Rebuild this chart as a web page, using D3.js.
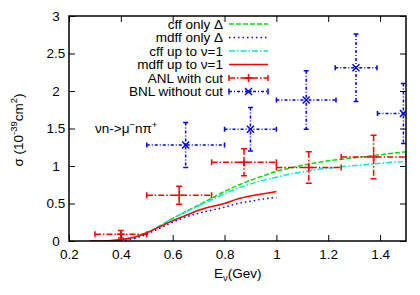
<html>
<head>
<style>
  body { margin: 0; background: #fff; }
  svg text { font-family: "Liberation Sans", Arial, sans-serif; }
</style>
</head>
<body>
<svg width="420" height="295"></svg>
<script src="https://d3js.org/d3.v7.min.js"></script>
<script>
    // curves (E in GeV, sigma in 1e-39 cm^2)
    var cffDeltaE = [0.28,0.35,0.4,0.45,0.5,0.55,0.6,0.65,0.7,0.75,0.8,0.85,0.9,0.95,1.0,1.05,1.1,1.15,1.2,1.25,1.3,1.35,1.4,1.45,1.5];
    var cffDeltaS = [0,0.003,0.012,0.045,0.11,0.2,0.3,0.39,0.48,0.57,0.66,0.74,0.81,0.87,0.93,0.97,1.01,1.04,1.07,1.09,1.11,1.13,1.15,1.17,1.19];
    var mdffDeltaE = [0.4,0.45,0.5,0.55,0.6,0.65,0.7,0.75,0.8,0.85,0.9,0.95,1.0];
    var mdffDeltaS = [0,0.03,0.09,0.17,0.25,0.32,0.37,0.41,0.45,0.5,0.53,0.56,0.58];
    var cffNuE = [0.28,0.35,0.4,0.45,0.5,0.55,0.6,0.65,0.7,0.75,0.8,0.85,0.9,0.95,1.0,1.05,1.1,1.15,1.2,1.25,1.3,1.35,1.4,1.45,1.5];
    var cffNuS = [0,0.003,0.012,0.045,0.11,0.2,0.3,0.39,0.47,0.55,0.63,0.7,0.76,0.81,0.85,0.89,0.92,0.95,0.97,0.99,1.005,1.02,1.035,1.05,1.06];
    var mdffNuE = [0.28,0.35,0.4,0.45,0.5,0.55,0.6,0.65,0.7,0.75,0.8,0.85,0.9,0.95,1.0];
    var mdffNuS = [0,0.005,0.02,0.05,0.11,0.19,0.27,0.34,0.41,0.46,0.5,0.56,0.6,0.63,0.66];

    // data points
    var anlE    = [0.4, 0.625, 0.875, 1.125, 1.375];
    var anlEerr = [0.1, 0.125, 0.125, 0.125, 0.125];
    var anlS    = [0.09, 0.61, 1.05, 0.98, 1.12];
    var anlSerr = [0.05, 0.12, 0.18, 0.21, 0.29];
    var bnlE    = [0.65, 0.9, 1.115, 1.307, 1.49];
    var bnlElo  = [0.5, 0.8, 1.0, 1.227, 1.39];
    var bnlEhi  = [0.8, 1.0, 1.23, 1.388, 1.6];
    var bnlS    = [1.28, 1.49, 1.88, 2.31, 1.70];
    var bnlSerr = [0.3, 0.29, 0.39, 0.45, 0.4];

    var xTicks = [0.2, 0.4, 0.6, 0.8, 1, 1.2, 1.4];
    var yTicks = [0, 0.5, 1, 1.5, 2, 2.5, 3];
    var legendLabels = ["cff only \u0394", "mdff only \u0394", "cff up to \u03bd=1", "mdff up to \u03bd=1", "ANL with cut", "BNL without cut"];

    var pL = 69, pR = 406, pT = 16, pB = 241;
    var svg = d3.select("svg");
    var x = d3.scaleLinear().domain([0.2, 1.5]).range([pL, pR]);
    var y = d3.scaleLinear().domain([0, 3]).range([pB, pT]);

    svg.append("defs").append("clipPath").attr("id", "clip")
        .append("rect").attr("x", pL).attr("y", pT)
        .attr("width", pR - pL).attr("height", pB - pT);

    // axes with inward ticks
    svg.append("g").attr("transform", "translate(0," + pB + ")")
        .call(d3.axisBottom(x).tickValues(xTicks).tickSize(-6).tickPadding(8).tickFormat(d => String(d)));
    svg.append("g").attr("transform", "translate(0," + pT + ")")
        .call(d3.axisTop(x).tickValues(xTicks).tickSize(-6).tickFormat(""));
    var yl = svg.append("g").attr("transform", "translate(" + pL + ",0)")
        .call(d3.axisLeft(y).tickValues(yTicks).tickSize(-6).tickFormat(d => String(d)));
    yl.selectAll("text").attr("text-anchor", "middle").attr("x", -13);
    svg.append("g").attr("transform", "translate(" + pR + ",0)")
        .call(d3.axisRight(y).tickValues(yTicks).tickSize(-6).tickFormat(""));
    svg.selectAll(".domain").remove();
    svg.selectAll(".tick line").attr("stroke", "#000");
    svg.selectAll(".tick text").style("font-size", "13.5px").attr("fill", "#000");

    var plot = svg.append("g").attr("clip-path", "url(#clip)");

    var line = d3.line().x(d => x(d[0])).y(d => y(d[1])).curve(d3.curveMonotoneX);
    function curve(es, ss, color, dash) {
        plot.append("path")
            .datum(es.map((e, i) => [e, ss[i]]))
            .attr("d", line)
            .attr("fill", "none")
            .attr("stroke", color)
            .attr("stroke-width", 1.5)
            .attr("stroke-dasharray", dash);
    }
    curve(cffDeltaE, cffDeltaS, "#00e000", "5,2");
    curve(cffNuE, cffNuS, "#00e6e6", "6,2,1.5,2");
    curve(mdffDeltaE, mdffDeltaS, "#0000ff", "1.5,3");
    curve(mdffNuE, mdffNuS, "#ff0000", null);

    function errbar(g, cx, cy, x1, x2, y1, y2, color, dash, cap) {
        g.append("line").attr("x1", x1).attr("x2", x2).attr("y1", cy).attr("y2", cy)
            .attr("stroke", color).attr("stroke-width", 1.5).attr("stroke-dasharray", dash);
        g.append("line").attr("x1", cx).attr("x2", cx).attr("y1", y1).attr("y2", y2)
            .attr("stroke", color).attr("stroke-width", 1.5).attr("stroke-dasharray", dash);
        [[x1, cy, 0], [x2, cy, 0], [cx, y1, 1], [cx, y2, 1]].forEach(c => {
            if (c[2] == 0)
                g.append("line").attr("x1", c[0]).attr("x2", c[0]).attr("y1", c[1] - cap).attr("y2", c[1] + cap)
                    .attr("stroke", color).attr("stroke-width", 1.5);
            else
                g.append("line").attr("x1", c[0] - cap).attr("x2", c[0] + cap).attr("y1", c[1]).attr("y2", c[1])
                    .attr("stroke", color).attr("stroke-width", 1.5);
        });
    }
    function plus(g, cx, cy, color) {
        g.append("path").attr("d", "M" + (cx - 4) + "," + cy + "h8M" + cx + "," + (cy - 4) + "v8")
            .attr("stroke", color).attr("stroke-width", 1.5);
    }
    function cross(g, cx, cy, color) {
        g.append("path").attr("d", "M" + (cx - 3.5) + "," + (cy - 3.5) + "l7,7M" + (cx - 3.5) + "," + (cy + 3.5) + "l7,-7")
            .attr("stroke", color).attr("stroke-width", 1.5);
    }

    anlE.forEach((e, i) => {
        errbar(plot, x(e), y(anlS[i]), x(e - anlEerr[i]), x(e + anlEerr[i]),
            y(anlS[i] + anlSerr[i]), y(anlS[i] - anlSerr[i]), "#ff0000", "6,2,1.5,2", 3);
        plus(plot, x(e), y(anlS[i]), "#ff0000");
    });
    bnlE.forEach((e, i) => {
        errbar(plot, x(e), y(bnlS[i]), x(bnlElo[i]), x(bnlEhi[i]),
            y(bnlS[i] + bnlSerr[i]), y(bnlS[i] - bnlSerr[i]), "#0000ff", "3,2,1,2", 2.5);
        cross(plot, x(e), y(bnlS[i]), "#0000ff");
    });

    // frame
    svg.append("rect").attr("x", pL).attr("y", pT).attr("width", pR - pL).attr("height", pB - pT)
        .attr("fill", "none").attr("stroke", "#000").attr("stroke-width", 1.5);

    // legend
    var lg = svg.append("g");
    var styles = [
        {c: "#00e000", d: "5,2"}, {c: "#0000ff", d: "1.5,3"}, {c: "#00e6e6", d: "6,2,1.5,2"},
        {c: "#ff0000", d: null}, {c: "#ff0000", d: "6,2,1.5,2", pt: "plus"}, {c: "#0000ff", d: "3,2,1,2", pt: "cross"}
    ];
    legendLabels.forEach((t, i) => {
        var ly = 24 + i * 13.5;
        lg.append("text").attr("x", 223).attr("y", ly + 4.5).attr("text-anchor", "end")
            .style("font-size", "13.5px").text(t);
        var s = styles[i];
        if (s.pt) {
            errbar(lg, 248.5, ly, 229, 268, ly, ly, s.c, s.d, 3);
            if (s.pt == "plus") plus(lg, 248.5, ly, s.c); else cross(lg, 248.5, ly, s.c);
        } else {
            lg.append("line").attr("x1", 229).attr("x2", 268).attr("y1", ly).attr("y2", ly)
                .attr("stroke", s.c).attr("stroke-width", 1.5).attr("stroke-dasharray", s.d);
        }
    });

    // annotation
    var ann = svg.append("text").attr("x", 95).attr("y", 133).style("font-size", "13.5px");
    ann.append("tspan").text("\u03bdn->\u03bc");
    ann.append("tspan").attr("dy", -5).style("font-size", "9.5px").text("\u2212");
    ann.append("tspan").attr("dy", 5).text("n\u03c0");
    ann.append("tspan").attr("dy", -5).style("font-size", "9.5px").text("+");

    // axis titles
    var xt = svg.append("text").attr("x", 214).attr("y", 278).style("font-size", "13.5px");
    xt.append("tspan").text("E");
    xt.append("tspan").attr("dy", 3).style("font-size", "9.5px").text("\u03bd");
    xt.append("tspan").attr("dy", -3).text("(Gev)");

    var yt = svg.append("text").attr("transform", "translate(23,130) rotate(-90)")
        .attr("text-anchor", "middle").style("font-size", "13.5px");
    yt.append("tspan").text("\u03c3 (10");
    yt.append("tspan").attr("dy", -6).style("font-size", "9.5px").text("-39");
    yt.append("tspan").attr("dy", 6).text("cm");
    yt.append("tspan").attr("dy", -6).style("font-size", "9.5px").text("2");
    yt.append("tspan").attr("dy", 6).text(")");
</script>
</body>
</html>
